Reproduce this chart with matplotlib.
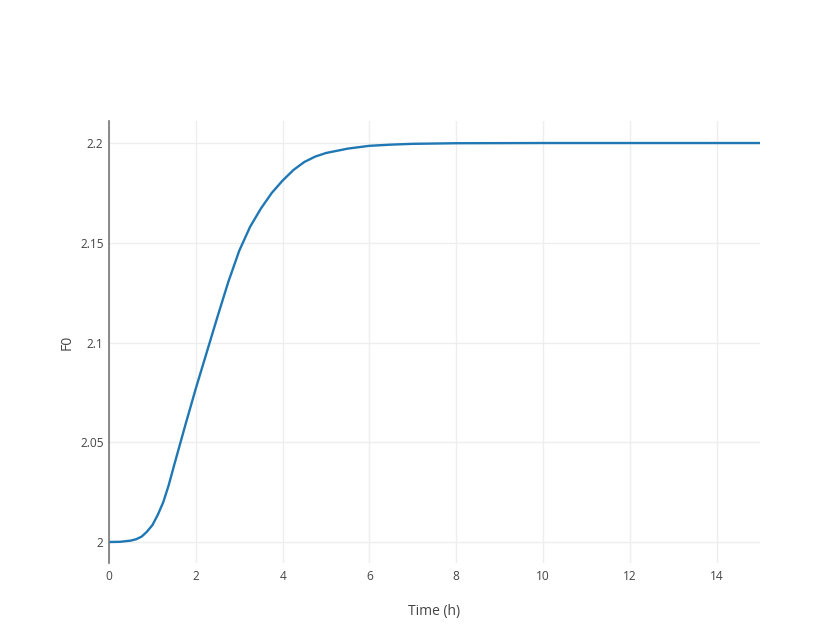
import matplotlib
matplotlib.use("Agg")
import matplotlib.pyplot as plt

plt.rcParams['font.family'] = ['Open Sans', 'DejaVu Sans']

# Time (h) and F0 values
time_h = [0, 0.25, 0.5, 0.625, 0.75, 0.875, 1.0, 1.125, 1.25, 1.375, 1.5,
          1.75, 2.0, 2.25, 2.5, 2.75, 3.0, 3.25, 3.5, 3.75, 4.0, 4.25, 4.5,
          4.75, 5.0, 5.5, 6.0, 6.5, 7.0, 8.0, 10.0, 12.0, 15.0]
f0 = [2.0000, 2.0001, 2.0007, 2.0014, 2.0027, 2.0052, 2.0085, 2.0137,
      2.0200, 2.0285, 2.0385, 2.0580, 2.0770, 2.0950, 2.1130, 2.1305,
      2.1460, 2.1580, 2.1672, 2.1750, 2.1812, 2.1865, 2.1905, 2.1932,
      2.1950, 2.1972, 2.1986, 2.1992, 2.1996, 2.1999, 2.2000, 2.2000,
      2.2000]

x_ticks = [0, 2, 4, 6, 8, 10, 12, 14]
y_ticks = [2.0, 2.05, 2.1, 2.15, 2.2]
y_tick_labels = ['2', '2.05', '2.1', '2.15', '2.2']

fig = plt.figure(figsize=(8.4, 6.3), dpi=100)
ax = fig.add_axes([0.1298, 0.1063, 0.775, 0.7016])

ax.plot(time_h, f0, color='#1f77b4', linewidth=1.7)

ax.set_xlim(0, 15)
ax.set_ylim(1.98947, 2.21103)
ax.set_xticks(x_ticks)
ax.set_yticks(y_ticks)
ax.set_yticklabels(y_tick_labels)

# plotly-like look
ax.grid(True, color='#eeeeee', linewidth=1)
ax.set_axisbelow(True)
for side in ['top', 'right', 'bottom']:
    ax.spines[side].set_visible(False)
ax.spines['left'].set_color('#777777')
ax.spines['left'].set_linewidth(1.2)
ax.tick_params(length=0, labelsize=8.6, labelcolor='#444444')
ax.tick_params(axis='x', pad=5)
ax.tick_params(axis='y', pad=4)

ax.set_xlabel('Time (h)', fontsize=10, color='#444444', labelpad=15)
ax.set_ylabel('F0', fontsize=10, color='#444444', labelpad=4)

fig.savefig('out.png', dpi=100)
